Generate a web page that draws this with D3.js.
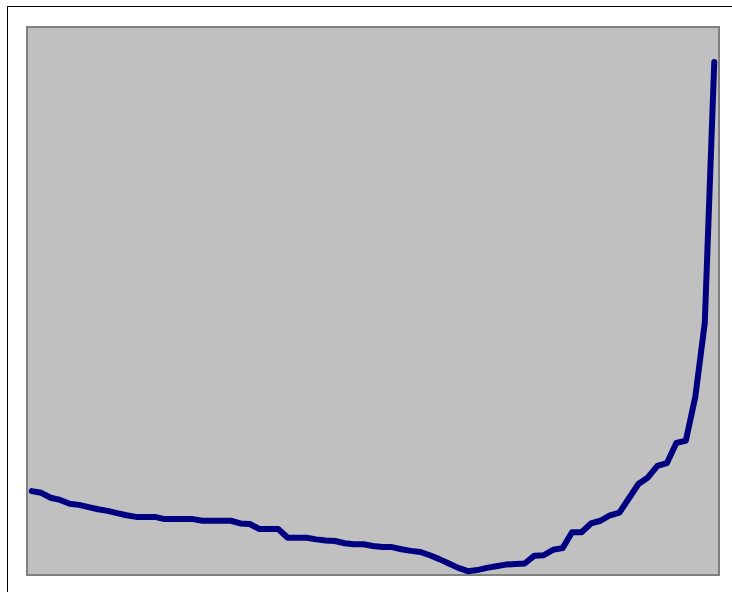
<!DOCTYPE html>
<html>
<head>
<meta charset="utf-8">
<script src="https://d3js.org/d3.v7.min.js"></script>
<style>
  html, body { margin: 0; padding: 0; background: #ffffff; overflow: hidden; }
  svg { display: block; }
</style>
</head>
<body>
<div id="chart"></div>
<script>
// Categories (73 periods, no visible labels on the chart)
const categories = d3.range(1, 74).map(String);

// Series values (arbitrary index units 0..100)
const values = [
  15.3, 15.0, 14.1, 13.7, 13.0, 12.8, 12.4, 12.0, 11.7, 11.3,
  10.9, 10.6, 10.6, 10.6, 10.2, 10.2, 10.2, 10.2, 9.9, 9.9,
  9.9, 9.9, 9.4, 9.3, 8.4, 8.4, 8.4, 6.8, 6.8, 6.8,
  6.5, 6.3, 6.2, 5.8, 5.6, 5.6, 5.3, 5.1, 5.1, 4.7,
  4.4, 4.2, 3.6, 2.9, 2.1, 1.3, 0.7, 0.9, 1.3, 1.6,
  1.9, 2.0, 2.1, 3.5, 3.6, 4.6, 4.9, 7.8, 7.8, 9.4,
  9.9, 10.9, 11.4, 14.0, 16.6, 17.8, 19.9, 20.4, 24.1, 24.5,
  32.5, 46.0, 93.6
];

// Value axis domain
const yDomain = [0, 100];

const W = 732, H = 592;
const plot = { left: 27, top: 27, right: 719, bottom: 575 };

const svg = d3.select("#chart").append("svg")
  .attr("width", W).attr("height", H);

// Outer chart area border
svg.append("rect")
  .attr("x", 7.5).attr("y", 6.5)
  .attr("width", 760).attr("height", 620)
  .attr("fill", "#ffffff")
  .attr("stroke", "#000000")
  .attr("stroke-width", 1);

// Plot area
svg.append("rect")
  .attr("x", plot.left).attr("y", plot.top)
  .attr("width", plot.right - plot.left)
  .attr("height", plot.bottom - plot.top)
  .attr("fill", "#C0C0C0")
  .attr("stroke", "#808080")
  .attr("stroke-width", 2);

const x = d3.scaleBand()
  .domain(categories)
  .range([plot.left, plot.right])
  .padding(0);

const y = d3.scaleLinear()
  .domain(yDomain)
  .range([plot.bottom, plot.top]);

const data = categories.map((c, i) => ({ c, v: values[i] }));

const line = d3.line()
  .x(d => x(d.c) + x.bandwidth() / 2)
  .y(d => y(d.v));

svg.append("path")
  .datum(data)
  .attr("d", line)
  .attr("fill", "none")
  .attr("stroke", "#000080")
  .attr("stroke-width", 6)
  .attr("stroke-linejoin", "round")
  .attr("stroke-linecap", "round");
</script>
</body>
</html>
